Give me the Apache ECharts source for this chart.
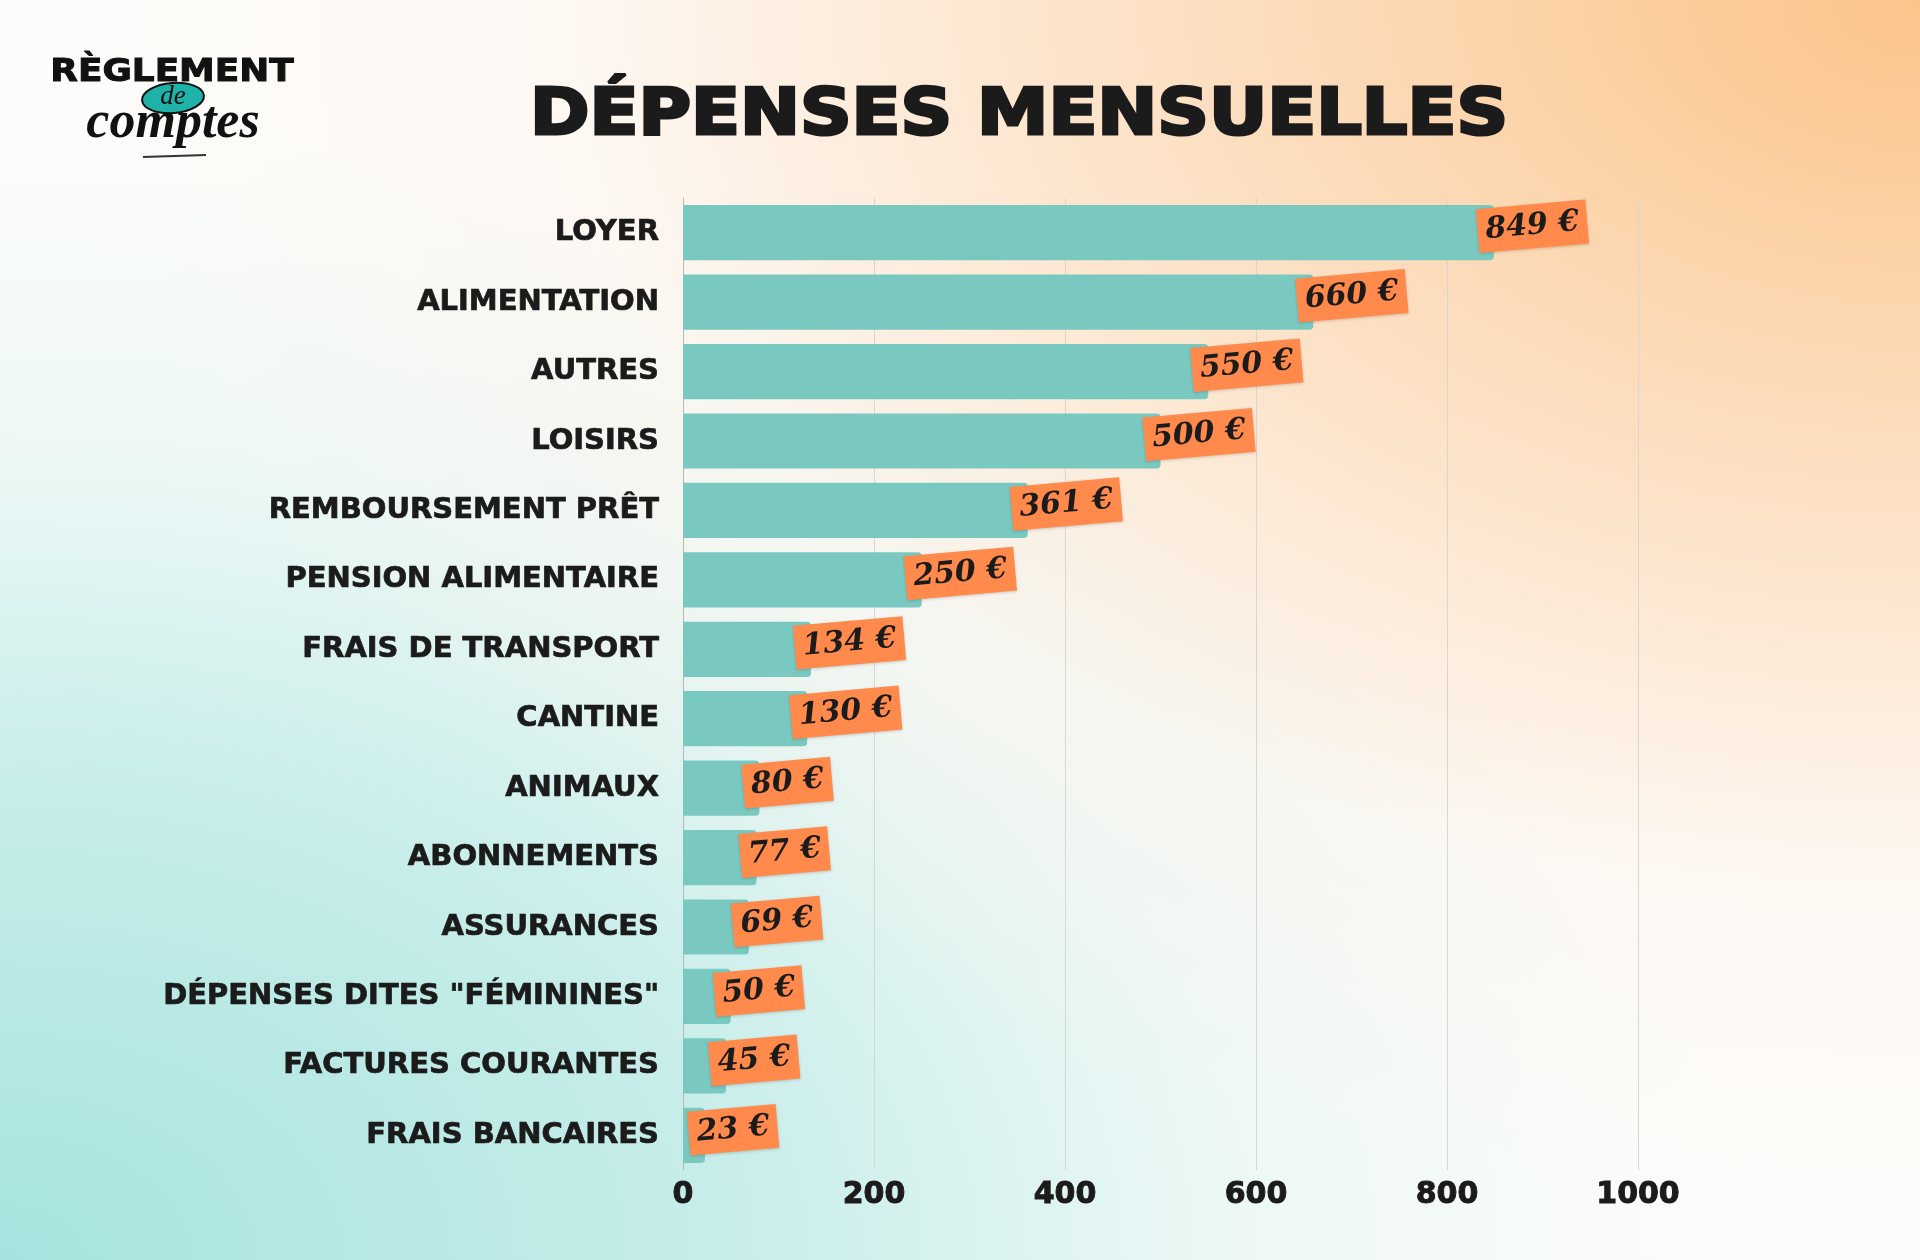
<!DOCTYPE html>
<html>
<head>
<meta charset="utf-8">
<script src="https://cdn.jsdelivr.net/npm/echarts@6/dist/echarts.min.js"></script>
<style>
html,body{margin:0;padding:0;width:1920px;height:1260px;overflow:hidden;}
body{background:
  radial-gradient(ellipse at 100% 0%, #fbc48a 0%, rgba(252,215,178,0.75) 28%, rgba(254,240,228,0.35) 50%, rgba(255,255,255,0) 68%),
  radial-gradient(ellipse at 0% 100%, #a6e3de 0%, rgba(184,233,229,0.8) 26%, rgba(214,242,240,0.4) 46%, rgba(255,255,255,0) 64%),
  #fdfcfa;}
#chart{width:1920px;height:1260px;}
</style>
</head>
<body>
<div id="chart"></div>
<script>
const titleText = 'DÉPENSES MENSUELLES';
const categories = ['LOYER','ALIMENTATION','AUTRES','LOISIRS','REMBOURSEMENT PRÊT','PENSION ALIMENTAIRE','FRAIS DE TRANSPORT','CANTINE','ANIMAUX','ABONNEMENTS','ASSURANCES','DÉPENSES DITES "FÉMININES"','FACTURES COURANTES','FRAIS BANCAIRES'];
const values = [849,660,550,500,361,250,134,130,80,77,69,50,45,23];
const xTicks = [0,200,400,600,800,1000];

const chart = echarts.init(document.getElementById('chart'), null, {renderer:'canvas'});
const option = {
  backgroundColor: 'transparent',
  animation: false,
  grid: {left: 683, right: 282, top: 198, bottom: 90, containLabel: false},
  xAxis: {
    type: 'value', min: xTicks[0], max: xTicks[xTicks.length-1], interval: 200,
    axisLine: {show: false}, axisTick: {show: false},
    splitLine: {show: true, lineStyle: {color: '#d6d6d2', width: 1}},
    axisLabel: {margin: 10, color: '#1b1b1b', fontFamily: 'DejaVu Sans', fontWeight: 'bold', fontSize: 30,
      formatter: v => String(v), textBorderColor: '#1b1b1b', textBorderWidth: 1}
  },
  yAxis: {
    type: 'category', data: categories, inverse: true,
    axisLine: {show: true, lineStyle: {color: '#b9b9b9', width: 1}},
    axisTick: {show: false},
    axisLabel: {margin: 24, color: '#1b1b1b', fontFamily: 'DejaVu Sans', fontWeight: 'bold', fontSize: 29,
      textBorderColor: '#1b1b1b', textBorderWidth: 0.7}
  },
  series: [{
    type: 'bar', data: values, barCategoryGap: '20.5%',
    itemStyle: {color: '#7ac9c1', borderRadius: [0,4,4,0]},
    label: {
      show: true, position: 'right', distance: 0, offset: [-16, -3], rotate: 5,
      formatter: p => p.value + ' €',
      backgroundColor: '#ff8a4c', padding: [3, 8, 1, 8],
      fontFamily: 'DejaVu Serif', fontStyle: 'italic', fontWeight: 'bold', fontSize: 30,
      color: '#1b1b1b', lineHeight: 40,
      shadowColor: 'rgba(0,0,0,0.18)', shadowBlur: 3, shadowOffsetY: 1
    }
  }],
  graphic: [
    {type: 'text', x: 1019, y: 117, scaleX: 1.12, scaleY: 1, originX: 0, originY: 0,
      style: {text: titleText, fontFamily: 'DejaVu Sans', fontWeight: 'bold', fontSize: 64, fill: '#1b1b1b', stroke: '#1b1b1b', lineWidth: 3, align: 'center', verticalAlign: 'middle'}},
    {type: 'text', x: 172, y: 73, scaleX: 1.12, scaleY: 1,
      style: {text: 'RÈGLEMENT', fontFamily: 'DejaVu Sans', fontWeight: 'bold', fontSize: 32, fill: '#111', stroke: '#111', lineWidth: 1, align: 'center', verticalAlign: 'middle'}},
    {type: 'ellipse', shape: {cx: 173, cy: 98, rx: 31, ry: 15}, rotation: 0.08, originX: 173, originY: 98, style: {fill: '#1fb2a8', stroke: '#111', lineWidth: 2}},
    {type: 'text', x: 173, y: 97, style: {text: 'de', fontFamily: 'Liberation Serif', fontStyle: 'italic', fontSize: 27, fill: '#111', align: 'center', verticalAlign: 'middle'}},
    {type: 'text', x: 173, y: 124, style: {text: 'comptes', fontFamily: 'Liberation Serif', fontStyle: 'italic', fontWeight: 'bold', fontSize: 52, fill: '#111', align: 'center', verticalAlign: 'middle'}},
    {type: 'line', shape: {x1: 143, y1: 157, x2: 206, y2: 155}, style: {stroke: '#333', lineWidth: 2}}
  ]
};
chart.setOption(option);
</script>
</body>
</html>
